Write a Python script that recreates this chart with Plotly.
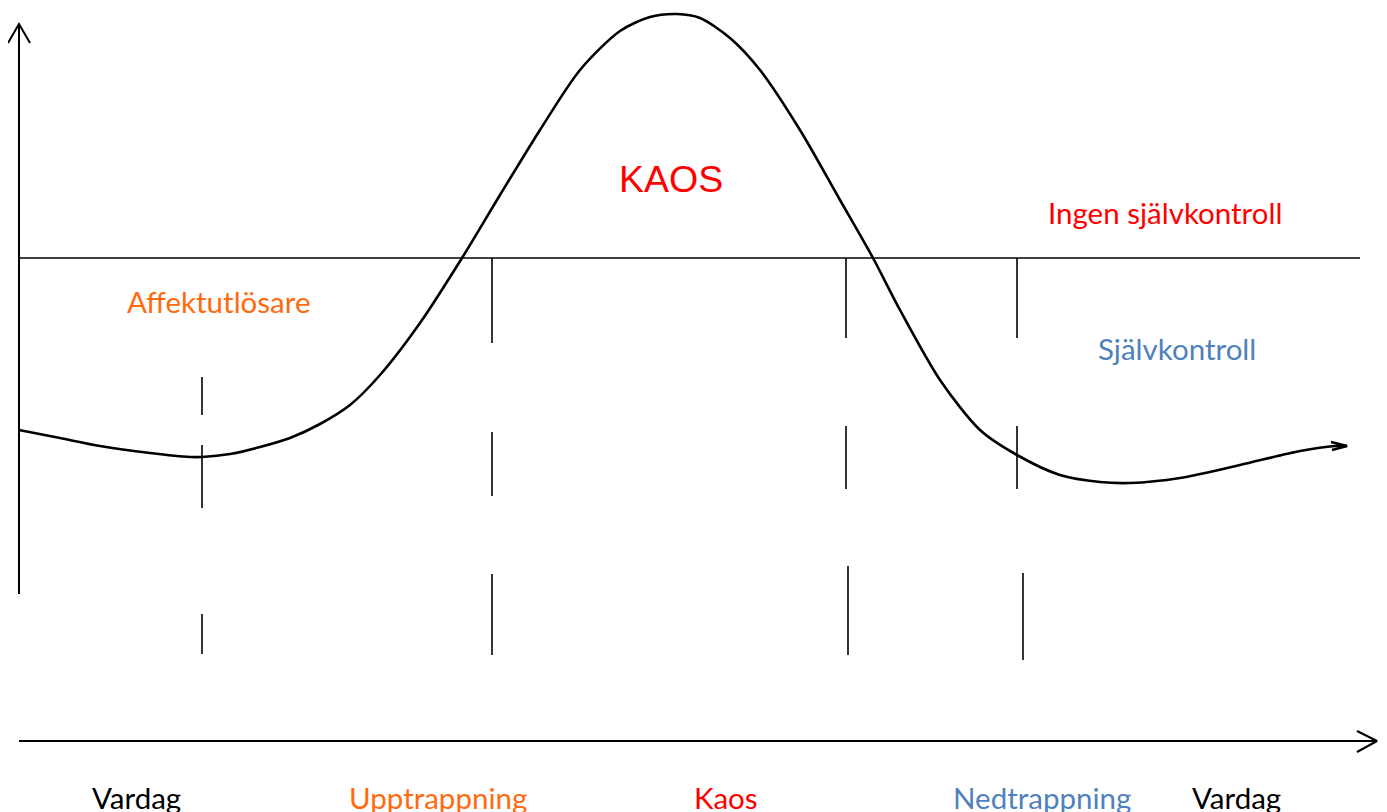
import plotly.graph_objects as go

# Canvas coordinates (pixel-like units, y downward)
W, H = 1387, 812
OFF = 8  # page body margin

# Main curve (intensity over time)
curve_x = [19, 60, 100, 150, 190, 202, 230, 260, 290, 320, 350, 380, 420, 462, 500, 540,
           580, 620, 650, 677, 700, 730, 760, 800, 840, 873, 900, 940, 980, 1017,
           1060, 1100, 1130, 1180, 1240, 1300, 1335, 1347]
curve_y = [430, 438, 446, 453, 457, 457, 454, 447, 438, 424, 405, 375, 323, 258, 195, 130,
           70, 31, 17, 14, 18, 38, 70, 130, 200, 258, 310, 380, 430, 455,
           475, 482, 483, 478, 465, 451, 446, 446]

# Axes
y_axis_x = [19, 19]
y_axis_y = [594, 25]
x_axis_x = [19, 1376]
x_axis_y = [741, 741]
threshold_x = [19, 1360]
threshold_y = [258, 258]

# Dashed phase separators: (x_top, x_bottom, y_start, y_end)
separators = [
    (202, 202, 377, 415), (202, 202, 445, 508), (202, 202, 614, 654),
    (492, 492, 258, 343), (492, 492, 432, 496), (492, 492, 574, 655),
    (846, 846, 258, 338), (846, 846, 426, 489), (848, 848, 566, 655),
    (1017, 1017, 258, 338), (1017, 1017, 426, 489), (1023, 1023, 573, 660),
]

# Phase labels along the bottom
phase_labels = ["Vardag", "Upptrappning", "Kaos", "Nedtrappning", "Vardag"]
phase_x = [136, 438, 726, 1042, 1236]
phase_colors = ["#000000", "#FF6A0F", "#FF0000", "#4F81BD", "#000000"]

# Region labels
region_labels = ["KAOS", "Ingen självkontroll", "Affektutlösare", "Självkontroll"]
region_x = [671, 1165, 218, 1177]
region_y = [179, 212, 301, 348]
region_colors = ["#FF0000", "#FF0000", "#FF6A0F", "#4F81BD"]

fig = go.Figure()

line_style = dict(color="black", width=2)

fig.add_trace(go.Scatter(x=y_axis_x, y=y_axis_y, mode="lines", line=line_style, hoverinfo="skip"))
fig.add_trace(go.Scatter(x=[8, 19, 30], y=[43, 24, 43], mode="lines", line=line_style, hoverinfo="skip"))
fig.add_trace(go.Scatter(x=x_axis_x, y=x_axis_y, mode="lines", line=line_style, hoverinfo="skip"))
fig.add_trace(go.Scatter(x=[1357, 1377, 1357], y=[731, 741, 752], mode="lines", line=line_style, hoverinfo="skip"))
fig.add_trace(go.Scatter(x=threshold_x, y=threshold_y, mode="lines", line=dict(color="black", width=1.6), hoverinfo="skip"))

for x0, x1, y0, y1 in separators:
    fig.add_trace(go.Scatter(x=[x0, x1], y=[y0, y1], mode="lines",
                             line=dict(color="black", width=1.6), hoverinfo="skip"))

fig.add_trace(go.Scatter(x=curve_x, y=curve_y, mode="lines",
                         line=dict(color="black", width=2.6, shape="spline", smoothing=0.8),
                         hoverinfo="skip"))
# small arrowhead at curve end
fig.add_trace(go.Scatter(x=[1331, 1347, 1332], y=[442, 446, 450], mode="lines",
                         line=dict(color="black", width=2.8), hoverinfo="skip"))

for t, x, c in zip(phase_labels, phase_x, phase_colors):
    fig.add_annotation(x=x, y=797, text=t, showarrow=False,
                       font=dict(family="Lato, Open Sans, sans-serif", size=29.5, color=c),
                       xanchor="center", yanchor="middle")

for i, (t, x, y, c) in enumerate(zip(region_labels, region_x, region_y, region_colors)):
    fam = "Liberation Sans, Arial, sans-serif" if i == 0 else "Lato, Open Sans, sans-serif"
    size = 37.5 if i == 0 else 29.5
    fig.add_annotation(x=x, y=y, text=t, showarrow=False,
                       font=dict(family=fam, size=size, color=c),
                       xanchor="center", yanchor="middle")

fig.update_layout(
    width=W - OFF, height=H - OFF,
    margin=dict(l=0, r=0, t=0, b=0),
    paper_bgcolor="white", plot_bgcolor="white",
    showlegend=False,
    xaxis=dict(range=[OFF, W], visible=False, fixedrange=True),
    yaxis=dict(range=[H, OFF], visible=False, fixedrange=True),
)

fig.write_html("out.html")
